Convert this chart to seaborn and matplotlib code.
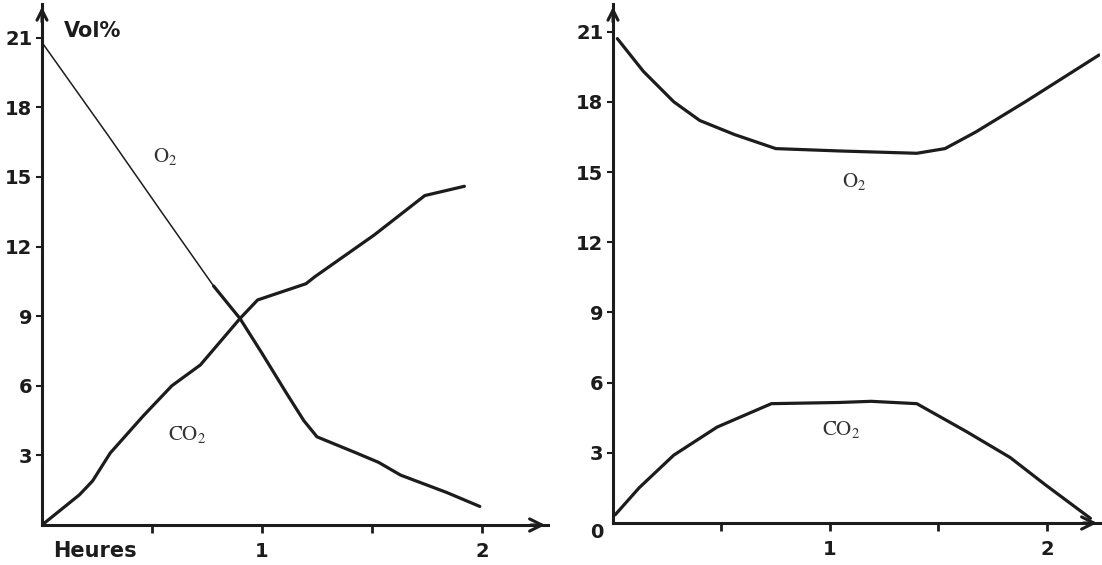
import matplotlib
matplotlib.use("Agg")
import matplotlib.pyplot as plt
import matplotlib.transforms as mtransforms
import seaborn as sns

# --- Left: closed chamber (O2 falls, CO2 rises) ---
left_o2_hours = [0.0, 0.30, 0.55, 0.78, 0.90, 1.00, 1.11, 1.19, 1.25, 1.43, 1.53, 1.63, 1.84, 1.99]
left_o2_vol   = [20.8, 16.8, 13.4, 10.3, 8.9, 7.4, 5.7, 4.5, 3.8, 3.1, 2.7, 2.15, 1.4, 0.8]
left_thin_until = 3  # first points drawn with the fine pen

left_co2_hours = [0.0, 0.17, 0.23, 0.31, 0.46, 0.59, 0.72, 0.90, 0.98, 1.20, 1.24, 1.51, 1.74, 1.92]
left_co2_vol   = [0.0, 1.3, 1.9, 3.1, 4.7, 6.0, 6.9, 8.9, 9.7, 10.4, 10.7, 12.5, 14.2, 14.6]

# --- Right: ventilated chamber (O2 dips, CO2 bumps) ---
right_o2_hours = [0.02, 0.14, 0.28, 0.40, 0.56, 0.75, 1.04, 1.40, 1.53, 1.67, 1.90, 2.24]
right_o2_vol   = [20.7, 19.3, 18.0, 17.2, 16.6, 16.0, 15.9, 15.8, 16.0, 16.7, 18.0, 20.0]

right_co2_hours = [0.01, 0.12, 0.28, 0.48, 0.73, 1.04, 1.19, 1.40, 1.63, 1.83, 1.99, 2.20]
right_co2_vol   = [0.35, 1.5, 2.9, 4.1, 5.1, 5.15, 5.2, 5.1, 3.9, 2.8, 1.65, 0.2]

y_ticks = [3, 6, 9, 12, 15, 18, 21]
x_ticks = [0.5, 1, 1.5, 2]
x_tick_labels = ["", "1", "", "2"]

sns.set_theme(style="white")
plt.rcParams["font.family"] = ["DejaVu Sans"]
plt.rcParams["mathtext.fontset"] = "stix"

W, H = 1102, 565
fig = plt.figure(figsize=(W / 100, H / 100), dpi=100)
fig.patch.set_facecolor("white")

ink = "#1c1c1c"
label_ink = "#333333"


def make_axes(x0, x1, y0_px, y1_px, xmax, ymax):
    ax = fig.add_axes([x0 / W, (H - y0_px) / H, (x1 - x0) / W, (y0_px - y1_px) / H])
    ax.set_xlim(0, xmax)
    ax.set_ylim(0, ymax)
    ax.set_facecolor("white")
    for s in ["top", "right"]:
        ax.spines[s].set_visible(False)
    for s in ["left", "bottom"]:
        ax.spines[s].set_color(ink)
        ax.spines[s].set_linewidth(2.2)
    # arrow heads on both axes
    ax.annotate("", xy=(1.0, 0), xytext=(0.96, 0), xycoords="axes fraction",
                arrowprops=dict(arrowstyle="->", color=ink, lw=2.2,
                                mutation_scale=22), annotation_clip=False)
    ax.annotate("", xy=(0, 1.0), xytext=(0, 0.96), xycoords="axes fraction",
                arrowprops=dict(arrowstyle="->", color=ink, lw=2.2,
                                mutation_scale=18), annotation_clip=False)
    ax.set_xticks(x_ticks)
    ax.set_xticklabels(x_tick_labels)
    ax.set_yticks(y_ticks)
    ax.set_yticklabels([str(v) for v in y_ticks])
    ax.tick_params(axis="x", direction="out", length=6, width=2, color=ink,
                   pad=6, labelsize=14, labelcolor=ink, bottom=True)
    ax.tick_params(axis="y", direction="out", length=4, width=1.5, color=ink,
                   pad=3, labelsize=14, labelcolor=ink, left=True)
    for lab in ax.get_xticklabels() + ax.get_yticklabels():
        lab.set_fontweight("bold")
    ax.set_xlabel("")
    ax.set_ylabel("")
    return ax


# Left panel
axl = make_axes(42, 548, 525, 4, (548 - 42) / 220, (525 - 4) / 23.2)

sns.lineplot(x=left_o2_hours[:left_thin_until + 1], y=left_o2_vol[:left_thin_until + 1],
             ax=axl, color=ink, linewidth=1.1, sort=False)
sns.lineplot(x=left_o2_hours[left_thin_until:], y=left_o2_vol[left_thin_until:],
             ax=axl, color=ink, linewidth=2.3, sort=False)
sns.lineplot(x=left_co2_hours, y=left_co2_vol, ax=axl, color=ink,
             linewidth=2.3, sort=False)

axl.text(0.56, 15.9, r"$\mathrm{O_2}$", fontsize=15, color=label_ink,
         ha="center", va="center")
axl.text(0.66, 3.9, r"$\mathrm{CO_2}$", fontsize=15, color=label_ink,
         ha="center", va="center")
axl.text(0.10, 21.3, "Vol%", fontsize=15, fontweight="bold", color=ink,
         ha="left", va="center")
axl.text(0.24, -1.1, "Heures", fontsize=15, fontweight="bold", color=ink,
         ha="center", va="center")

# Right panel
axr = make_axes(613, 1100, 523, 4, (1100 - 613) / 217, (523 - 4) / 23.4)

sns.lineplot(x=right_o2_hours, y=right_o2_vol, ax=axr, color=ink,
             linewidth=2.3, sort=False)
sns.lineplot(x=right_co2_hours, y=right_co2_vol, ax=axr, color=ink,
             linewidth=2.3, sort=False)

axr.text(1.11, 14.6, r"$\mathrm{O_2}$", fontsize=15, color=label_ink,
         ha="center", va="center")
axr.text(1.05, 4.0, r"$\mathrm{CO_2}$", fontsize=15, color=label_ink,
         ha="center", va="center")

# origin label sits just below-left of the corner
origin_tf = axr.transAxes + mtransforms.ScaledTranslation(-23 / 100, -10 / 100, fig.dpi_scale_trans)
axr.text(0, 0, "0", transform=origin_tf, fontsize=14, fontweight="bold",
         color=ink, ha="left", va="center")

fig.savefig("out.png", dpi=100, facecolor="white")
